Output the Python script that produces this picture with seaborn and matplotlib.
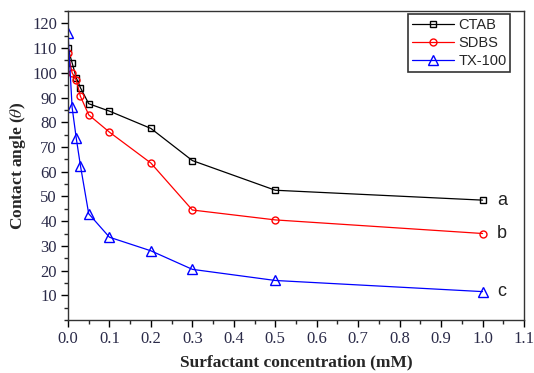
import numpy as np
import pandas as pd
import seaborn as sns
import matplotlib.pyplot as plt
from matplotlib.ticker import MultipleLocator

# DATA
conc = [0, 0.01, 0.02, 0.03, 0.05, 0.1, 0.2, 0.3, 0.5, 1.0]
ctab = [110, 104, 98, 94, 87.5, 84.5, 77.5, 64.5, 52.5, 48.5]
sdbs = [108, 100, 97, 90.5, 83, 76, 63.5, 44.5, 40.5, 35]
tx100 = [116, 86, 73.5, 62.5, 43, 33.5, 28, 20.5, 16, 11.5]
names = ['CTAB', 'SDBS', 'TX-100']
tags = ['a', 'b', 'c']

df = pd.DataFrame({'conc': conc * 3,
                   'angle': ctab + sdbs + tx100,
                   'surf': sum([[n] * len(conc) for n in names], [])})

sns.set_style('ticks')
plt.rcParams['font.family'] = ['Liberation Serif', 'DejaVu Serif']
plt.rcParams['mathtext.fontset'] = 'stix'

fig = plt.figure(figsize=(5.34, 3.73), dpi=100)
ax = fig.add_axes([0.1273, 0.142, 0.854, 0.8285])

styles = {'CTAB': ('black', 's', 4.5), 'SDBS': ('red', 'o', 5), 'TX-100': ('blue', '^', 7)}
for n in names:
    c, m, ms = styles[n]
    sns.lineplot(data=df[df.surf == n], x='conc', y='angle', ax=ax, color=c,
                 marker=m, markersize=ms, markerfacecolor='none', markeredgecolor=c,
                 markeredgewidth=1, linewidth=0.9, label=n)

# end labels a, b, c
for tag, ys in zip(tags, [ctab, sdbs, tx100]):
    ax.text(conc[-1] + 0.035, ys[-1], tag, fontsize=13, va='center', ha='left',
            family=['Liberation Sans'], color='#222222')

ax.set_xlim(0, 1.1)
ax.set_ylim(0, 125)
ax.xaxis.set_minor_locator(MultipleLocator(0.05))
ax.yaxis.set_minor_locator(MultipleLocator(5))
ax.set_yticks(np.arange(10, 121, 10))
ax.set_xticks(np.round(np.arange(0, 1.11, 0.1), 1))
ax.set_xticklabels(['%.1f' % v for v in np.arange(0, 1.11, 0.1)])
ax.tick_params(which='major', direction='out', length=5, width=1, labelsize=12, colors='black',
               labelcolor='#2a2a48', pad=3)
ax.tick_params(which='minor', direction='out', length=3, width=1)
for s in ax.spines.values():
    s.set_linewidth(1)
    s.set_color('#333333')

ax.set_xlabel('Surfactant concentration (mM)', fontsize=12.5, fontweight='bold', labelpad=5)
ax.set_ylabel(r'Contact angle ($\theta$)', fontsize=12.5, fontweight='bold', labelpad=3)

leg = ax.legend(loc='upper right', bbox_to_anchor=(0.97, 0.99), frameon=True, fancybox=False,
                prop={'family': 'Liberation Sans', 'size': 10.5}, handlelength=2.9,
                borderpad=0.25, labelspacing=0.3, handletextpad=0.3, borderaxespad=0.0)
leg.get_frame().set_edgecolor('black')
leg.get_frame().set_linewidth(1.2)

fig.savefig('out.png', dpi=100)
